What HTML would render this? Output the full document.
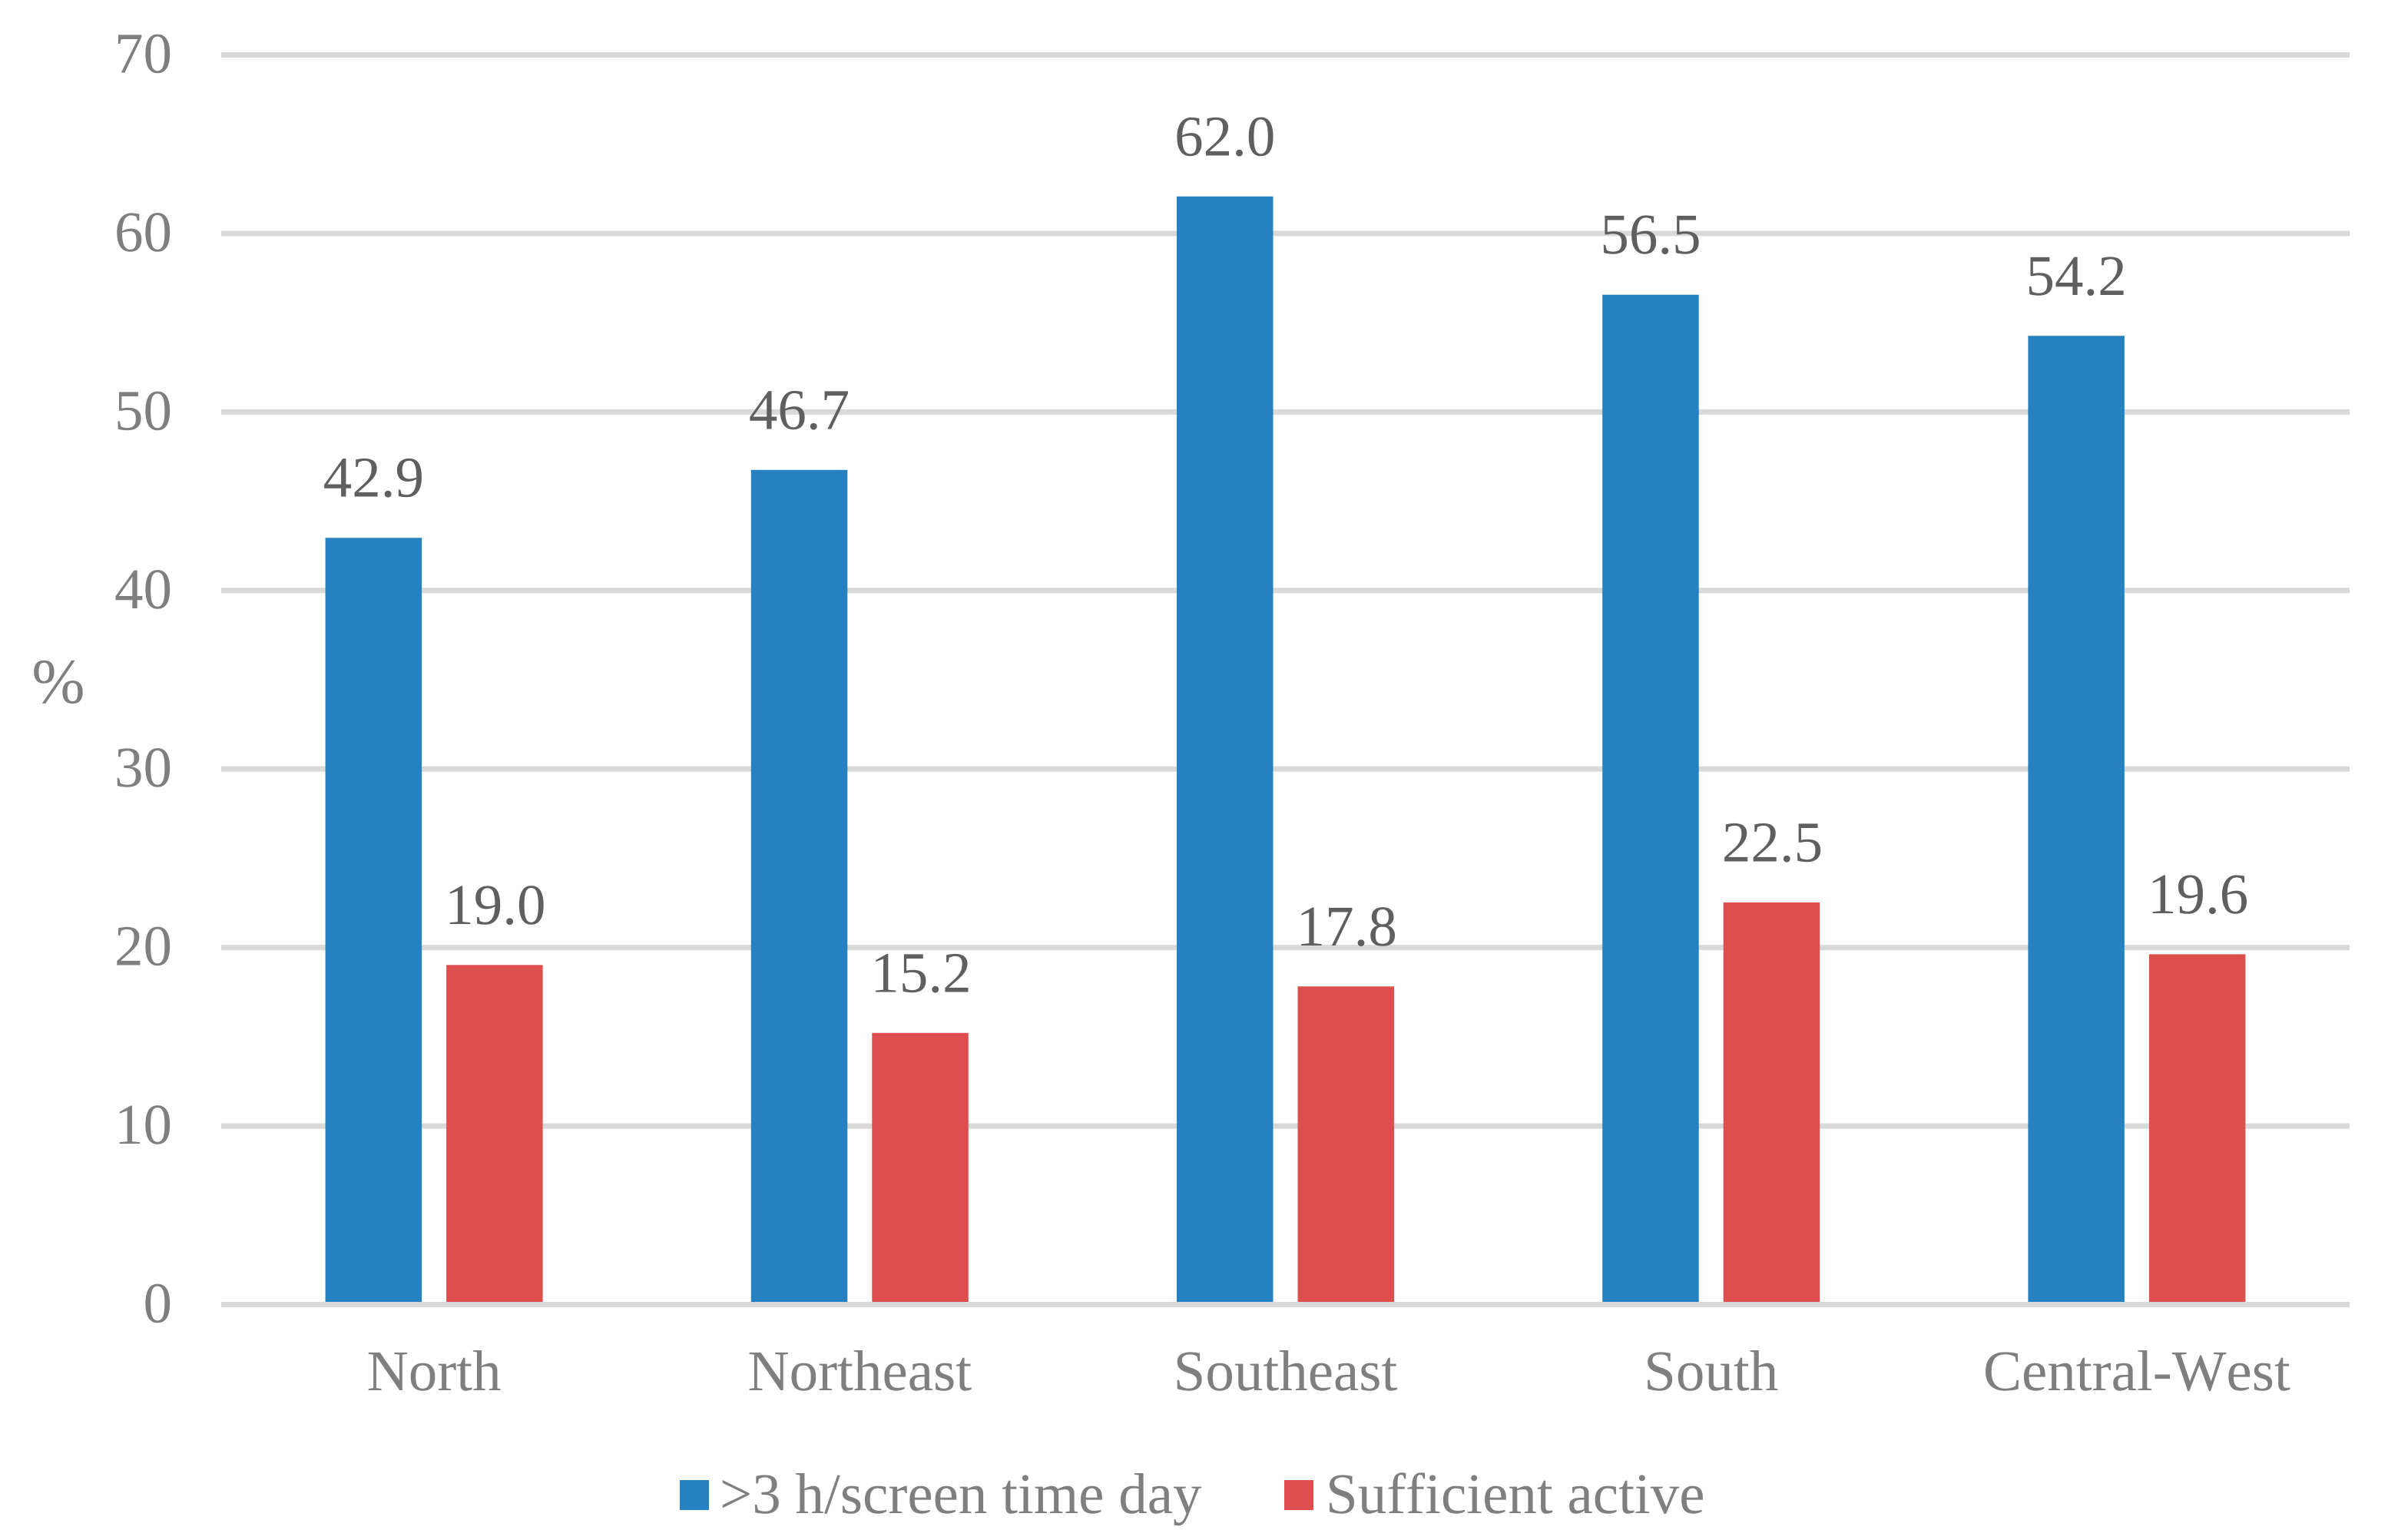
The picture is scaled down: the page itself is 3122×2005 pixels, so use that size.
<!DOCTYPE html>
<html lang="en">
<head>
<meta charset="utf-8">
<title>Screen time and physical activity by region</title>
<style>
html, body { margin: 0; padding: 0; background: #ffffff; }
body { width: 3122px; height: 2005px; overflow: hidden; }
svg { display: block; }
text { font-family: "Liberation Serif", "Times New Roman", serif; font-size: 75px; text-rendering: geometricPrecision; font-kerning: none; }
.tick { fill: #7f7f7f; }
.value { fill: #5f5f5f; }
</style>
</head>
<body>
<svg id="chart" xmlns="http://www.w3.org/2000/svg" width="3122" height="2005" viewBox="0 0 3122 2005">
  <g id="grid"></g>
  <g id="bars"></g>
  <g id="axis"></g>
  <g id="yticks"></g>
  <g id="xticks"></g>
  <g id="values"></g>
  <text class="tick" x="76" y="915" text-anchor="middle" style="font-size:83px">%</text>
  <g>
    <rect x="885" y="1927" width="38" height="39" fill="#2581c1"></rect>
    <text class="tick" x="937" y="1970">&gt;3 h/screen time day</text>
    <rect x="1672" y="1927" width="38" height="39" fill="#dd4f4e"></rect>
    <text class="tick" x="1726" y="1970">Sufficient active</text>
  </g>
</svg>
<script>
const categories = ["North", "Northeast", "Southeast", "South", "Central-West"];
const screenTime = [42.9, 46.7, 62.0, 56.5, 54.2];
const sufficientActive = [19.0, 15.2, 17.8, 22.5, 19.6];
const yTicks = [0, 10, 20, 30, 40, 50, 60, 70];

const SVG_NS = "http://www.w3.org/2000/svg";
const plotLeft = 288;
const plotRight = 3059;
const zeroY = 1698.5;
const gridUnit = 23.243;
const barUnit = 23.27;
const barWidth = 125.5;

function gridY(v) { return zeroY - v * gridUnit; }
function barY(v) { return zeroY - v * barUnit; }
function catX(i) { return plotLeft + (i + 0.5) * (plotRight - plotLeft) / categories.length; }

function make(tag, attrs, parent, content) {
  const el = document.createElementNS(SVG_NS, tag);
  for (const k in attrs) el.setAttribute(k, attrs[k]);
  if (content !== undefined) el.textContent = content;
  parent.appendChild(el);
  return el;
}

const gridG = document.getElementById("grid");
const yTickG = document.getElementById("yticks");
yTicks.forEach(function (t) {
  if (t !== 0) {
    const line = make("rect", { x: plotLeft, y: gridY(t) - 3.5, width: plotRight - plotLeft, height: 7, fill: "#d9d9d9" }, gridG);
    
    
  }
  const label = make("text", { x: 224, y: gridY(t) + 23, "text-anchor": "end", class: "tick" }, yTickG, String(t));
  
  
});

const barsG = document.getElementById("bars");
const valuesG = document.getElementById("values");
const xTickG = document.getElementById("xticks");

function drawSeries(values, offset, color, seriesName, labelNudge) {
  values.forEach(function (v, i) {
    const x = catX(i) + offset;
    const top = barY(v);
    const bar = make("rect", { x: x, y: top, width: barWidth, height: zeroY - top, fill: color }, barsG);
    
    
    const label = make("text", { x: x + barWidth / 2 + labelNudge, y: top - 53.5, "text-anchor": "middle", class: "value" }, valuesG, v.toFixed(1));
    
    
  });
}
drawSeries(screenTime, -141.5, "#2581c1", "screen-time", 0);
drawSeries(sufficientActive, 16, "#dd4f4e", "sufficient-active", 1);

const axisLine = make("rect", { x: plotLeft, y: gridY(0) - 3.5, width: plotRight - plotLeft, height: 7, fill: "#d9d9d9" }, document.getElementById("axis"));



categories.forEach(function (c, i) {
  const label = make("text", { x: catX(i), y: 1810, "text-anchor": "middle", class: "tick" }, xTickG, c);
  
  
});
</script>
</body>
</html>
